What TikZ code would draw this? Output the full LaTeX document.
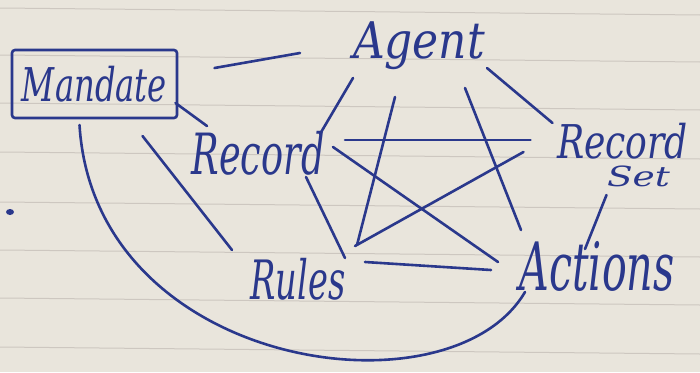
\documentclass[tikz,border=0pt]{standalone}
\usepackage{fontspec}
\usepackage{graphicx}
\setmainfont{DejaVu Serif}
\usetikzlibrary{calc}
\definecolor{paper}{RGB}{233,229,220}
\definecolor{rule}{RGB}{205,199,192}
\definecolor{ink}{RGB}{42,56,140}
\newcommand\hw[3]{\resizebox*{#1}{#2}{\itshape #3}}
\begin{document}
\begin{tikzpicture}[x=1pt,y=-1pt,
  lab/.style={inner sep=0pt,text=ink},
  conn/.style={draw=ink,line width=2.6pt,line cap=round},
  ruled/.style={draw=rule,line width=1pt}]
\fill[paper] (0,0) rectangle (700,372);
\useasboundingbox (0,0) rectangle (700,372);
\foreach \y in {8,55,103,152,202,250,298,347}
  \draw[ruled] (0,\y) -- (700,\y+7);
\fill[ink] (10,212) ellipse (4 and 3);
% nodes
\node[lab,draw=ink,line width=2.6pt,rounded corners=3pt,minimum width=165pt,minimum height=68pt] (mandate) at (94.5,84) {\hw{145pt}{36pt}{Mandate}};
\node[lab] (agent) at (419,46) {\hw{132pt}{48pt}{Agent}};
\node[lab] (record) at (258,153) {\hw{133pt}{44pt}{Record}};
\node[lab] (recset) at (622.5,155) {\vbox{\offinterlineskip\hbox{\hw{131pt}{36pt}{Record}}\kern7pt\hbox{\hspace*{50pt}\hw{63pt}{21pt}{Set}}}};
\node[lab] (rules) at (298,279) {\hw{95pt}{42pt}{Rules}};
\node[lab] (actions) at (597,266) {\hw{155pt}{50pt}{Actions}};
% connectors
\draw[conn] ($(mandate)+(120,-16)$) -- ($(agent)+(-119,7)$);
\draw[conn] ($(mandate)+(81,19)$) -- ($(record)+(-51,-27)$);
\draw[conn] ($(mandate)+(48,52)$) -- ($(rules)+(-66,-29)$);
\draw[conn] ($(mandate)+(-15,41)$) .. controls ($(mandate)+(0,286)$) and ($(actions)+(-147,154)$) .. ($(actions)+(-72,26)$);
\draw[conn] ($(agent)+(-66,32)$) -- ($(record)+(62,-19)$);
\draw[conn] ($(agent)+(68,22)$) -- ($(recset)+(-70,-32)$);
\draw[conn] ($(agent)+(-24,51)$) -- ($(rules)+(59,-34)$);
\draw[conn] ($(agent)+(46,42)$) -- ($(actions)+(-76,-36)$);
\draw[conn] ($(record)+(87,-13)$) -- ($(recset)+(-92,-15)$);
\draw[conn] ($(record)+(75,-6)$) -- ($(actions)+(-99,-4)$);
\draw[conn] ($(recset)+(-99,-3)$) -- ($(rules)+(57,-33)$);
\draw[conn] ($(record)+(48,24)$) -- ($(rules)+(47,-21)$);
\draw[conn] ($(recset)+(-16,40)$) -- ($(actions)+(-12,-17)$);
\draw[conn] ($(rules)+(67,-17)$) -- ($(actions)+(-106,4)$);
\end{tikzpicture}
\end{document}
